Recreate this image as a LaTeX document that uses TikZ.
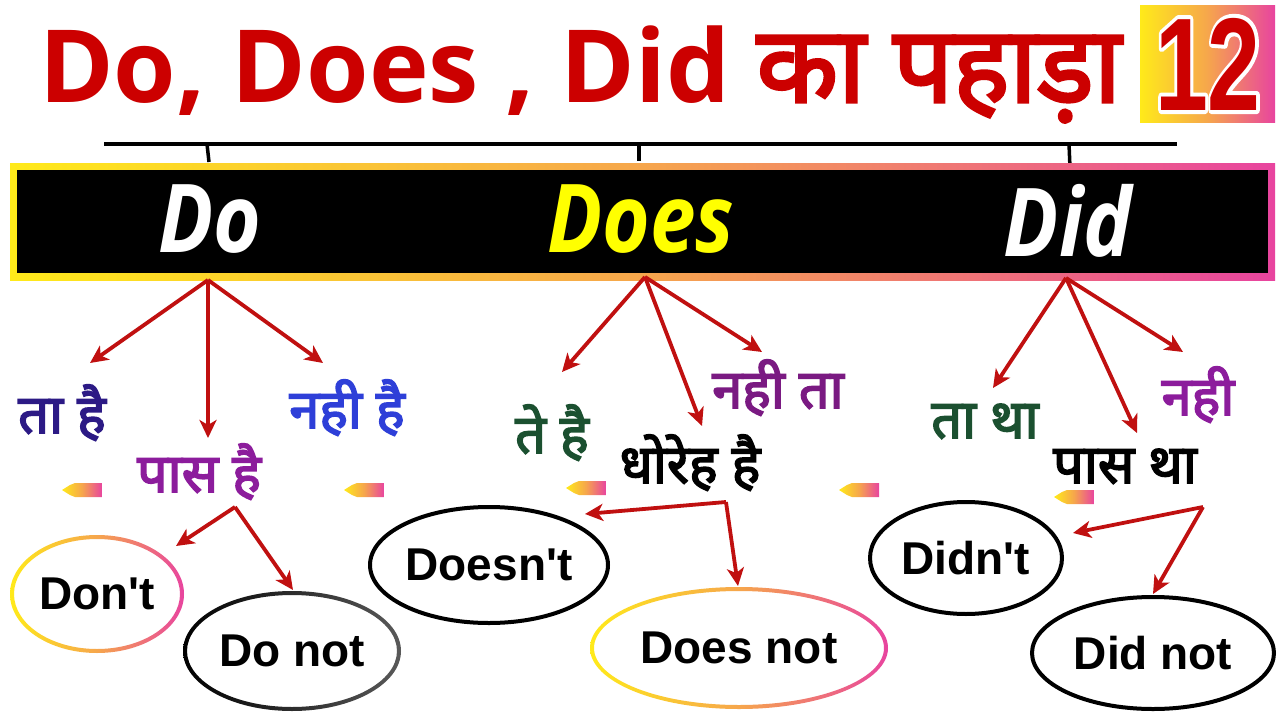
\documentclass[tikz,border=0pt]{standalone}
\usepackage{fontspec}
\usetikzlibrary{arrows.meta,shapes.geometric}
\newfontfamily\opensans{Open Sans}
\newfontfamily\devab[Script=Devanagari,FakeBold=3]{Noto Sans}
\newfontfamily\arialb{Liberation Sans}
\definecolor{tred}{HTML}{CC0000}
\definecolor{ared}{HTML}{C01010}
\definecolor{gy}{HTML}{FFEA1A}
\definecolor{go}{HTML}{F6A64C}
\definecolor{gp}{HTML}{E8449F}
\definecolor{cindigo}{HTML}{2C1A85}
\definecolor{cpurple}{HTML}{8C1C9C}
\definecolor{cblue}{HTML}{2E3FD8}
\definecolor{cgreen}{HTML}{1B5030}
\definecolor{cviolet}{HTML}{7A1A82}
\definecolor{dyellow}{HTML}{FFFF00}
\tikzset{
  arr/.style={draw=ared,line width=3.8pt,-{Stealth[length=18pt,width=17pt,inset=5pt]}},
  hindi/.style={anchor=base,inner sep=0pt,font=\devab\fontsize{54}{58}\selectfont},
  barword/.style={anchor=base,inner sep=0pt,xscale=0.86,font=\opensans\bfseries\itshape\fontsize{95}{100}\selectfont},
  ovaltext/.style={ellipse,inner sep=0pt,outer sep=0pt,font=\arialb\bfseries\fontsize{46}{50}\selectfont},
  blackoval/.style={ovaltext,draw=black,line width=4pt},
  gradshade/.style={left color=gy,right color=gp,middle color=go}
}
\newcommand\strokedtwelve{\special{pdf:literal direct 1 Tr 8 w 1 1 1 RG 1 j}\rlap{12}\special{pdf:literal direct 0 Tr}12}
\begin{document}
\begin{tikzpicture}[x=1pt,y=-1pt]
\useasboundingbox (0,0) rectangle (1280,720);
\fill[white] (0,0) rectangle (1280,720);

% title
\node[anchor=base west,inner sep=0pt,text=tred] (title) at (39,102)
  {\opensans\bfseries\fontsize{101}{104}\selectfont Do, Does , Did {\devab\fontsize{106}{110}\selectfont का पहाड़ा}};

% 12 box
\shade[gradshade] (1140,5) rectangle (1275,122);
\node[anchor=base,inner sep=0pt,xscale=0.72,text=tred,font=\arialb\bfseries\fontsize{132}{134}\selectfont] (twelve) at (1208,110) {\strokedtwelve};

% top line and ticks
\coordinate (lineL) at (104,144);
\coordinate (lineR) at (1177,144);
\draw[line width=4pt] (lineL) -- (lineR);
\coordinate (t1a) at (207,144); \coordinate (t1b) at (209,162);
\coordinate (t2a) at (639,144); \coordinate (t2b) at (639,161);
\coordinate (t3a) at (1069,144); \coordinate (t3b) at (1070,168);
\draw[line width=3.5pt] (t1a) -- (t1b);
\draw[line width=3.5pt] (t2a) -- (t2b);
\draw[line width=3.5pt] (t3a) -- (t3b);

% bar
\shade[gradshade] (10,163) rectangle (1275,280);
\fill[black] (17,170) rectangle (1268,273);
\node[barword,text=white] (do) at (210,252) {Do};
\node[barword,text=dyellow] (does) at (641,252) {Does};
\node[barword,text=white] (did) at (1068,256) {Did};

% origins
\coordinate (o1) at (208,280);
\coordinate (o2) at (645,277);
\coordinate (o3) at (1066,278);
% tips
\coordinate (a1) at (90,363);
\coordinate (a2) at (208,438);
\coordinate (a3) at (323,363);
\coordinate (b1) at (562,372);
\coordinate (b2) at (702,426);
\coordinate (b3) at (762,352);
\coordinate (c1) at (993,388);
\coordinate (c2) at (1137,433);
\coordinate (c3) at (1183,352);
\draw[arr] (o1) -- (a1);
\draw[arr] (o1) -- (a2);
\draw[arr] (o1) -- (a3);
\draw[arr] (o2) -- (b1);
\draw[arr] (o2) -- (b2);
\draw[arr] (o2) -- (b3);
\draw[arr] (o3) -- (c1);
\draw[arr] (o3) -- (c2);
\draw[arr] (o3) -- (c3);

% hindi labels
\node[hindi,text=cindigo] (tahai) at (62,433) {ता है};
\node[hindi,text=cpurple] (pashai) at (199,492) {पास है};
\node[hindi,text=cblue] (nahihai) at (347,428) {नही है};
\node[hindi,text=cgreen] (tehai) at (552,453) {ते है};
\node[hindi,text=black] (dhorehai) at (690,483) {धोरेह है};
\node[hindi,text=cviolet] (nahita) at (778,408) {नही ता};
\node[hindi,text=cgreen] (tatha) at (985,438) {ता था};
\node[hindi,text=black] (pastha) at (1125,483) {पास था};
\node[hindi,text=cpurple] (nahi) at (1198,415) {नही};

% small gradient marks
\foreach \mx/\my in {83/490,365/490,587/488,860/490,1075/497}
  \shade[gradshade] (\mx-21,\my) -- (\mx-13,\my-5) -- (\mx-8,\my-7) -- (\mx+19,\my-7)
     -- (\mx+19,\my+7) -- (\mx-8,\my+7) -- (\mx-13,\my+5) -- cycle;

% ovals
\shade[gradshade,even odd rule] (97,594) ellipse [x radius=87pt,y radius=59pt]
   (97,594) ellipse [x radius=83pt,y radius=55pt];
\node[ovaltext,minimum width=174pt,minimum height=118pt] (dont) at (97,594) {Don't};
\shade[left color=black,right color=black!65,even odd rule] (292,651) ellipse [x radius=109pt,y radius=60pt]
   (292,651) ellipse [x radius=105pt,y radius=56pt];
\node[ovaltext,minimum width=218pt,minimum height=120pt] (donot) at (292,651) {Do not};
\node[blackoval,minimum width=238pt,minimum height=116pt] (doesnt) at (489,565) {Doesn't};
\shade[gradshade,even odd rule] (739,648) ellipse [x radius=149pt,y radius=61pt]
   (739,648) ellipse [x radius=145pt,y radius=57pt];
\node[ovaltext,minimum width=298pt,minimum height=122pt] (doesnot) at (739,648) {Does not};
\node[blackoval,minimum width=192pt,minimum height=112pt] (didnt) at (966,558) {Didn't};
\node[blackoval,minimum width=242pt,minimum height=112pt] (didnot) at (1153,653) {Did not};

% lower branches
\coordinate (v1) at (235,507);
\coordinate (v2) at (726,502);
\coordinate (v3) at (1203,507);
\coordinate (d1a) at (176,546);
\coordinate (d1b) at (293,590);
\coordinate (d2a) at (585,514);
\coordinate (d2b) at (738,586);
\coordinate (d3a) at (1073,533);
\coordinate (d3b) at (1153,594);
\draw[arr] (v1) -- (d1a);
\draw[arr] (v1) -- (d1b);
\draw[arr] (v2) -- (d2a);
\draw[arr] (v2) -- (d2b);
\draw[arr] (v3) -- (d3a);
\draw[arr] (v3) -- (d3b);
\end{tikzpicture}
\end{document}
